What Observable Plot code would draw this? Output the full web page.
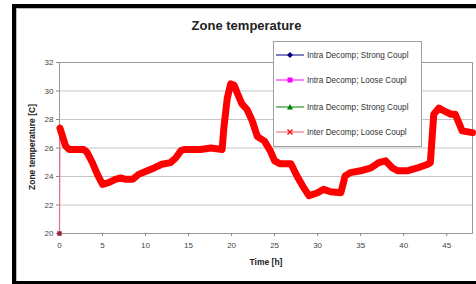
<!DOCTYPE html>
<html>
<head>
<meta charset="utf-8">
<script src="https://cdn.jsdelivr.net/npm/d3@7"></script>
<script src="https://cdn.jsdelivr.net/npm/@observablehq/plot@0.6"></script>
<style>
  body { margin: 0; background: #fff; }
  #wrap { position: relative; width: 476px; height: 284px; overflow: hidden; font-family: "Liberation Sans", Arial, sans-serif; }
  #frame { position: absolute; left: 12px; top: 4px; width: 480px; height: 280px; box-sizing: border-box; border: 4px solid #000; border-bottom-width: 3px; border-right: none; }
  #frame::after { content: ""; position: absolute; left: 0; top: 0; right: 0; bottom: 0; border-left: 1px solid #bbb; border-top: 1px solid #bbb; }
  #chart { position: absolute; left: 0; top: 0; }
  .lbl { position: absolute; font-weight: bold; color: #222; white-space: nowrap; }
  #title { left: 0; width: 493px; top: 18px; text-align: center; font-size: 13px; }
  #xlab { left: 266px; top: 257px; transform: translateX(-50%); font-size: 8.5px; }
  #ylab { left: 32px; top: 147px; transform: translate(-50%, -50%) rotate(-90deg); font-size: 8.5px; }
  #legend { position: absolute; left: 273px; top: 41px; width: 149px; height: 106px; box-sizing: border-box; border: 1px solid #a0a0a0; background: #fff; font-size: 8.2px; color: #333; }
  .row { position: absolute; left: 1px; height: 12px; display: flex; align-items: center; }
  .row svg { margin-right: 2px; }
</style>
</head>
<body>
<div id="wrap">
  <div id="frame"></div>
  <div id="chart"></div>
  <div id="title" class="lbl">Zone temperature</div>
  <div id="ylab" class="lbl">Zone temperature [C]</div>
  <div id="xlab" class="lbl">Time [h]</div>
  <div id="legend"></div>
</div>
<script>
// Series: Inter Decomp; Loose Coupl (the only visible curve)
const hours = [0, 0.05, 0.7, 1.1, 2.8, 3.2, 3.8, 4.4, 5.0, 5.7, 6.5, 7.1, 7.7, 8.5, 9.2, 10.2, 11.0, 11.9, 12.9, 13.5, 14.1, 14.5, 16.4, 17.6, 18.9, 19.1, 19.5, 19.9, 20.3, 20.7, 21.2, 21.8, 22.4, 23.0, 23.8, 24.5, 25.0, 25.6, 26.9, 27.6, 28.4, 29.0, 30.0, 30.7, 31.5, 32.7, 33.2, 33.8, 35.0, 36.2, 37.1, 37.9, 38.7, 39.3, 40.4, 41.6, 42.8, 43.1, 43.5, 44.1, 44.7, 45.5, 46.0, 46.8, 48.0];
const temps = [20.0, 27.4, 26.15, 25.9, 25.9, 25.7, 25.0, 24.15, 23.45, 23.57, 23.8, 23.9, 23.8, 23.8, 24.15, 24.4, 24.6, 24.86, 24.97, 25.3, 25.8, 25.9, 25.9, 26.0, 25.9, 27.4, 29.5, 30.5, 30.4, 29.8, 29.1, 28.7, 27.9, 26.8, 26.5, 25.8, 25.1, 24.9, 24.9, 24.04, 23.2, 22.65, 22.86, 23.1, 22.93, 22.86, 24.04, 24.27, 24.4, 24.6, 24.97, 25.1, 24.6, 24.4, 24.4, 24.6, 24.86, 24.97, 28.37, 28.8, 28.6, 28.37, 28.37, 27.2, 27.08];
const xTicks = [0, 5, 10, 15, 20, 25, 30, 35, 40, 45];
const yTicks = [20, 22, 24, 26, 28, 30, 32];
const seriesNames = ["Intra Decomp; Strong Coupl", "Intra Decomp; Loose Coupl", "Intra Decomp; Strong Coupl", "Inter Decomp; Loose Coupl"];
const seriesColors = ["#000080", "#ff00ff", "#008000", "#ff0000"];
const seriesMarkers = ["diamond", "square", "triangle", "cross"];

const data = hours.map((h, i) => ({h, t: temps[i]}));

const chart = Plot.plot({
  width: 476,
  height: 284,
  marginLeft: 59,
  marginRight: 4,
  marginTop: 62,
  marginBottom: 51,
  style: { fontFamily: "'Liberation Sans', Arial, sans-serif", fontSize: "8px", color: "#444", background: "transparent", overflow: "visible" },
  x: { domain: [0, 48] },
  y: { domain: [20, 32] },
  marks: [
    Plot.ruleY(yTicks.slice(1, -1), { stroke: "#c4c4c4", strokeWidth: 1 }),
    Plot.frame({ stroke: "#999" }),
    Plot.axisX({ ticks: xTicks, tickSize: 3, tickPadding: 6, stroke: "#888", label: null }),
    Plot.axisY({ ticks: yTicks, tickSize: 3, tickPadding: 3, stroke: "#888", label: null }),
    Plot.line(data, { x: "h", y: "t", stroke: "#e0708a", strokeWidth: 1.2 }),
    Plot.line(data.slice(1), { x: "h", y: "t", stroke: "#ff0000", strokeWidth: 7, strokeLinejoin: "round", strokeLinecap: "round" }),
    Plot.dot(data.slice(0, 1), { x: "h", y: "t", symbol: "square", r: 2.5, fill: "#a0203a", stroke: "none" })
  ]
});
document.getElementById("chart").appendChild(chart);

// Legend
const legend = document.getElementById("legend");
const rowTops = [7, 32, 59, 84];
seriesNames.forEach((name, i) => {
  const row = document.createElement("div");
  row.className = "row";
  row.style.top = rowTops[i] + "px";
  const c = seriesColors[i];
  let marker;
  if (seriesMarkers[i] === "diamond") marker = `<path d="M15,3 L18,6 L15,9 L12,6 Z" fill="${c}"/>`;
  else if (seriesMarkers[i] === "square") marker = `<rect x="12.5" y="3.5" width="5" height="5" fill="${c}"/>`;
  else if (seriesMarkers[i] === "triangle") marker = `<path d="M15,3 L18,8.5 L12,8.5 Z" fill="${c}"/>`;
  else marker = `<path d="M12.5,3.5 L17.5,8.5 M17.5,3.5 L12.5,8.5" stroke="${c}" stroke-width="1.2"/>`;
  const lineColor = i === 3 ? "#f06070" : c;
  row.innerHTML = `<svg width="30" height="12"><line x1="1" y1="6" x2="29" y2="6" stroke="${lineColor}" stroke-width="1"/>${marker}</svg><span>${name}</span>`;
  legend.appendChild(row);
});
</script>
</body>
</html>
